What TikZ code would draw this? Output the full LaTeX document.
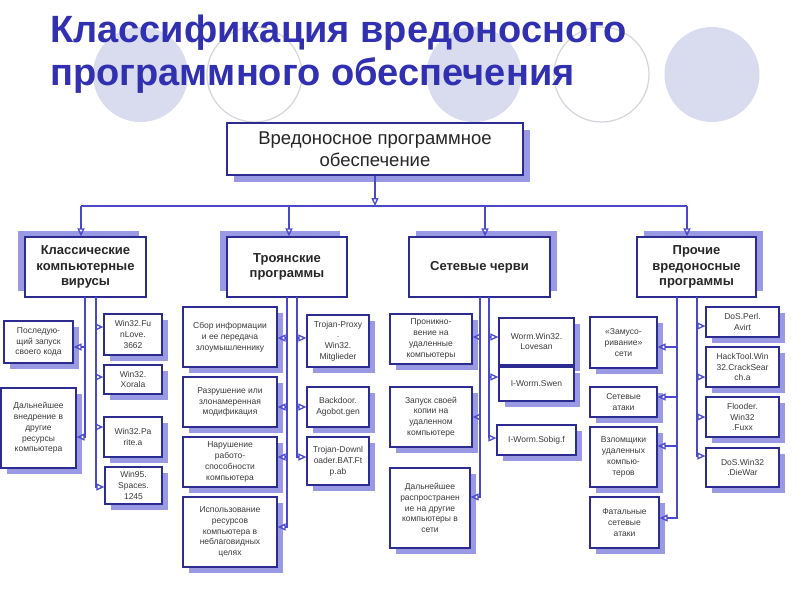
\documentclass[tikz,border=0pt]{standalone}
\usepackage{fontspec}
\setmainfont{Liberation Sans}
\usetikzlibrary{arrows.meta,shadows}
\definecolor{titleblue}{HTML}{3030B0}
\definecolor{boxline}{HTML}{2C2C90}
\definecolor{linkblue}{HTML}{4A4AC8}
\definecolor{shadowblue}{HTML}{9A9AE4}
\definecolor{disc}{HTML}{D9DBEF}
\definecolor{ring}{HTML}{D4D4DC}
\definecolor{leaftext}{HTML}{3A3A3A}
\begin{document}
\begin{tikzpicture}[x=1pt,y=-1pt]
    % Styles
    \tikzstyle{wire}=[draw=linkblue,line width=1.3pt]
    \tikzstyle{feed}=[wire,-{Triangle[open,length=8pt,width=7pt]}]
    \tikzstyle{box}=[draw=boxline,line width=1.2pt,fill=white,align=center,inner sep=1pt]
    \tikzstyle{title}=[text=titleblue,font=\bfseries\fontsize{38}{43}\selectfont,inner sep=0pt]
    \tikzstyle{topbox}=[box,minimum width=296pt,minimum height=52pt,text=black!85,font=\fontsize{18.5}{22}\selectfont,
        drop shadow={shadow xshift=7pt,shadow yshift=-7pt,fill=shadowblue,opacity=1}]
    \tikzstyle{catbox}=[box,minimum height=60pt,text=black!85,font=\bfseries\fontsize{13}{15.5}\selectfont]
    \tikzstyle{shadeL}=[drop shadow={shadow xshift=-7pt,shadow yshift=6pt,fill=shadowblue,opacity=1}]
    \tikzstyle{shadeR}=[drop shadow={shadow xshift=7pt,shadow yshift=6pt,fill=shadowblue,opacity=1}]
    \tikzstyle{leafbox}=[box,text=leaftext,font=\fontsize{8.5}{10.8}\selectfont,
        drop shadow={shadow xshift=6pt,shadow yshift=-6pt,fill=shadowblue,opacity=1}]
    %page
    \useasboundingbox[fill=white] (0,0) rectangle (800,600);
    %circles behind the title
    \foreach \cx in {140.5,474,712}
        \fill[disc] (\cx,74.5) circle (47.5pt);
    \foreach \cx in {254.5,601.5}
        \draw[ring,line width=1.2pt] (\cx,74.5) circle (47.5pt);
    \node[title,anchor=base west] (title1) at (50,42) {Классификация вредоносного};
    \node[title,anchor=base west] (title2) at (50,85) {программного обеспечения};
    %top and groups
    \node[topbox] (malware) at (375,149) {Вредоносное программное\\обеспечение};
    \node[catbox,shadeL,minimum width=121pt] (viruses) at (85.5,267) {Классические\\компьютерные\\вирусы};
    \node[catbox,shadeL,minimum width=120pt] (trojans) at (287,267) {Троянские\\программы};
    \node[catbox,shadeR,minimum width=141pt] (worms) at (479.5,267) {Сетевые черви};
    \node[catbox,shadeR,minimum width=119pt] (others) at (696.5,267) {Прочие\\вредоносные\\программы};
    %viruses
    \node[leafbox,minimum width=69pt,minimum height=42pt] (relaunch) at (38.5,342) {Последую-\\щий запуск\\своего кода};
    \node[leafbox,minimum width=75pt,minimum height=80pt] (spread) at (38.5,428) {Дальнейшее\\внедрение в\\другие\\ресурсы\\компьютера};
    \node[leafbox,minimum width=58pt,minimum height=41pt] (funlove) at (133,334.5) {Win32.Fu\\nLove.\\3662};
    \node[leafbox,minimum width=58pt,minimum height=29pt] (xorala) at (133,379.5) {Win32.\\Xorala};
    \node[leafbox,minimum width=58pt,minimum height=40pt] (parite) at (133,437) {Win32.Pa\\rite.a};
    \node[leafbox,minimum width=57pt,minimum height=37pt] (spaces) at (133.5,485.5) {Win95.\\Spaces.\\1245};
    %trojans
    \node[leafbox,minimum width=94pt,minimum height=60pt] (steal) at (230,337) {Сбор информации\\и ее передача\\злоумышленнику};
    \node[leafbox,minimum width=94pt,minimum height=50pt] (destroy) at (230,402) {Разрушение или\\злонамеренная\\модификация};
    \node[leafbox,minimum width=94pt,minimum height=50pt] (disrupt) at (230,462) {Нарушение\\работо-\\способности\\компьютера};
    \node[leafbox,minimum width=94pt,minimum height=70pt] (abuse) at (230,532) {Использование\\ресурсов\\компьютера в\\неблаговидных\\целях};
    \node[leafbox,minimum width=62pt,minimum height=52pt] (proxy) at (338,341) {Trojan-Proxy\\.\\Win32.\\Mitglieder};
    \node[leafbox,minimum width=62pt,minimum height=40pt] (backdoor) at (338,407) {Backdoor.\\Agobot.gen};
    \node[leafbox,minimum width=62pt,minimum height=48pt] (downloader) at (338,461) {Trojan-Downl\\oader.BAT.Ft\\p.ab};
    %worms
    \node[leafbox,minimum width=82pt,minimum height=50pt] (intrude) at (431,339) {Проникно-\\вение на\\удаленные\\компьютеры};
    \node[leafbox,minimum width=82pt,minimum height=60pt] (copy) at (431,417) {Запуск своей\\копии на\\удаленном\\компьютере};
    \node[leafbox,minimum width=80pt,minimum height=80pt] (propagate) at (430,508) {Дальнейшее\\распространен\\ие на другие\\компьютеры в\\сети};
    \node[leafbox,minimum width=75pt,minimum height=47pt] (lovesan) at (536.5,341.5) {Worm.Win32.\\Lovesan};
    \node[leafbox,minimum width=75pt,minimum height=34pt] (swen) at (536.5,384) {I-Worm.Swen};
    \node[leafbox,minimum width=79pt,minimum height=30pt] (sobig) at (536.5,440) {I-Worm.Sobig.f};
    %others
    \node[leafbox,minimum width=67pt,minimum height=51pt] (spam) at (623.5,342.5) {«Замусо-\\ривание»\\сети};
    \node[leafbox,minimum width=67pt,minimum height=30pt] (attacks) at (623.5,402) {Сетевые\\атаки};
    \node[leafbox,minimum width=67pt,minimum height=60pt] (crackers) at (623.5,457) {Взломщики\\удаленных\\компью-\\теров};
    \node[leafbox,minimum width=69pt,minimum height=51pt] (fatal) at (624.5,522.5) {Фатальные\\сетевые\\атаки};
    \node[leafbox,minimum width=73pt,minimum height=30pt] (avirt) at (742.5,322) {DoS.Perl.\\Avirt};
    \node[leafbox,minimum width=73pt,minimum height=40pt] (cracksearch) at (742.5,367) {HackTool.Win\\32.CrackSear\\ch.a};
    \node[leafbox,minimum width=73pt,minimum height=40pt] (fuxx) at (742.5,417) {Flooder.\\Win32\\.Fuxx};
    \node[leafbox,minimum width=73pt,minimum height=39pt] (diewar) at (742.5,467.5) {DoS.Win32\\.DieWar};
    %bus
    \coordinate (b1) at (81,206);
    \coordinate (b2) at (289,206);
    \coordinate (b3) at (485,206);
    \coordinate (b4) at (687,206);
    \draw[wire] (b1) -- (b4);
    \draw[feed] (malware.south) -- (malware.south |- b1);
    \foreach \c/\b in {viruses/b1,trojans/b2,worms/b3,others/b4}
        \draw[feed] (\b) -- (\b |- \c.north);
    %trunks
    \coordinate (v1l) at (85,297);  \coordinate (v1r) at (96,297);
    \coordinate (v2l) at (287,297); \coordinate (v2r) at (297,297);
    \coordinate (v3l) at (480,297); \coordinate (v3r) at (489,297);
    \coordinate (v4l) at (677,297); \coordinate (v4r) at (697,297);
    \foreach \b/\s in {relaunch/-5,spread/-9}
        \draw[feed] (v1l) |- ([yshift=\s pt]\b.east);
    \foreach \b/\s in {funlove/7.5,xorala/2.5,parite/10,spaces/-1.5}
        \draw[feed] (v1r) |- ([yshift=\s pt]\b.west);
    \foreach \b/\s in {steal/-1,destroy/-5,disrupt/5,abuse/5}
        \draw[feed] (v2l) |- ([yshift=\s pt]\b.east);
    \foreach \b/\s in {proxy/3,backdoor/0,downloader/4}
        \draw[feed] (v2r) |- ([yshift=\s pt]\b.west);
    \foreach \b/\s in {intrude/2,copy/0,propagate/11}
        \draw[feed] (v3l) |- ([yshift=\s pt]\b.east);
    \foreach \b/\s in {lovesan/4.5,swen/7,sobig/2}
        \draw[feed] (v3r) |- ([yshift=\s pt]\b.west);
    \foreach \b/\s in {spam/-4.5,attacks/5,crackers/11,fatal/4.5}
        \draw[feed] (v4l) |- ([yshift=\s pt]\b.east);
    \foreach \b/\s in {avirt/-4,cracksearch/-10,fuxx/0,diewar/11.5}
        \draw[feed] (v4r) |- ([yshift=\s pt]\b.west);
\end{tikzpicture}
\end{document}
